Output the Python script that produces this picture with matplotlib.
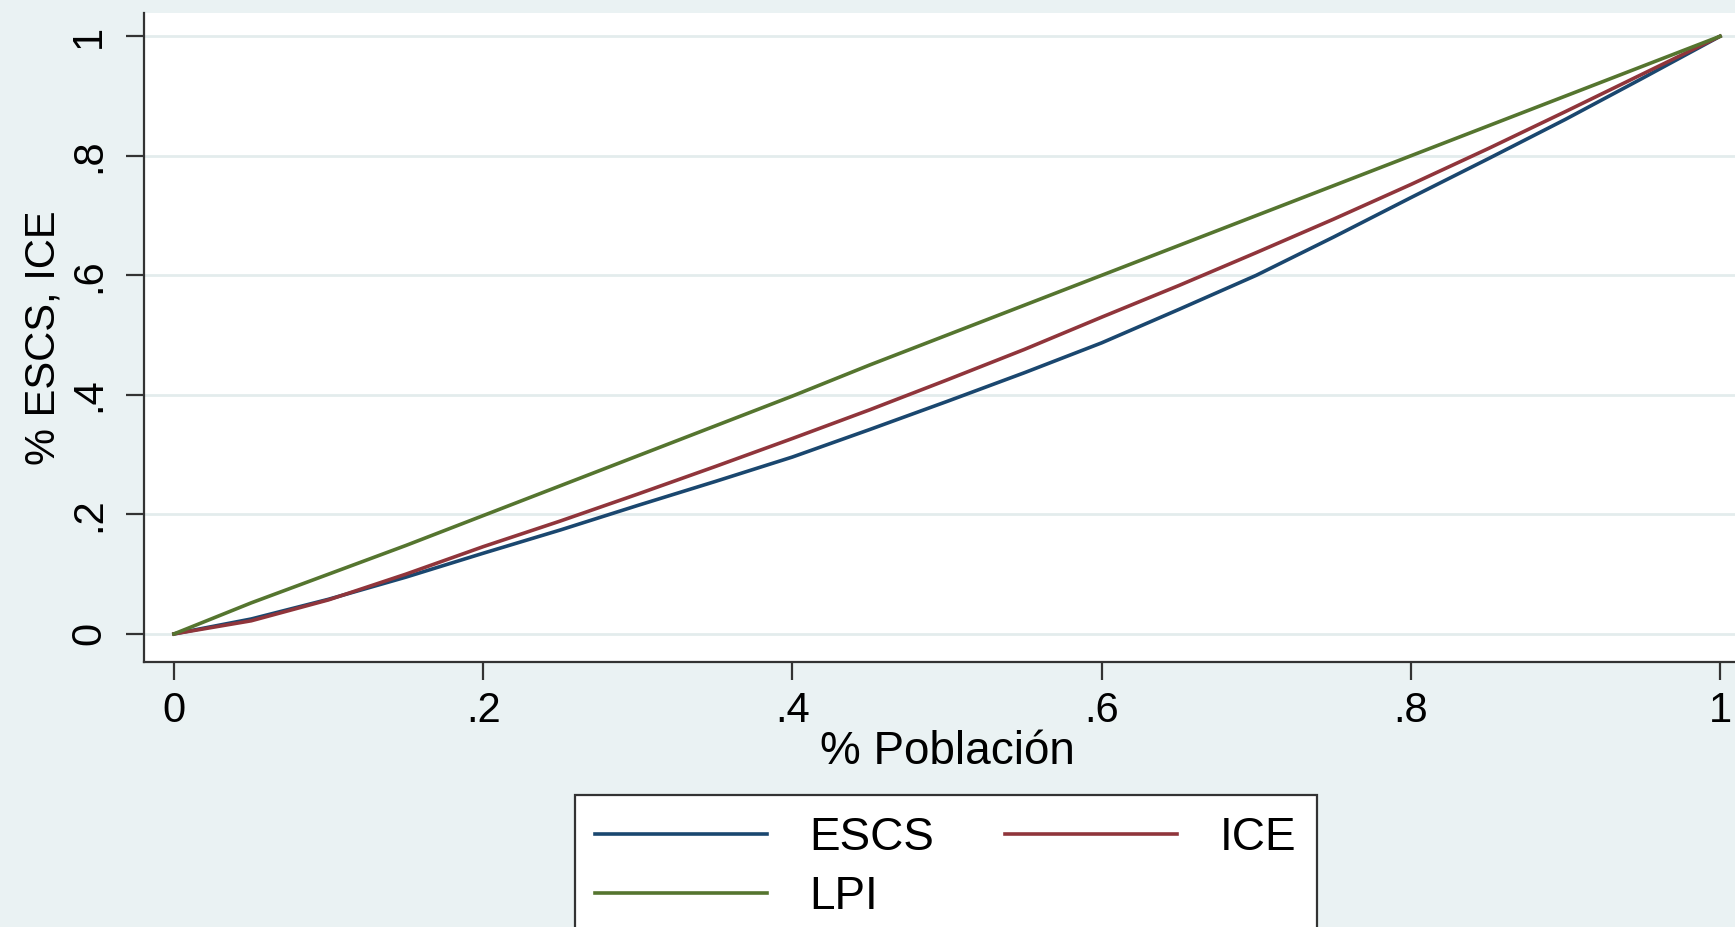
import matplotlib
matplotlib.use("Agg")
import matplotlib.pyplot as plt

# Curvas de concentración
poblacion = [0.0, 0.05, 0.10, 0.15, 0.20, 0.25, 0.30, 0.35, 0.40, 0.45, 0.50,
             0.55, 0.60, 0.65, 0.70, 0.75, 0.80, 0.85, 0.90, 0.95, 1.0]
escs = [0.0, 0.025, 0.058, 0.095, 0.135, 0.174, 0.215, 0.255, 0.296, 0.342, 0.389,
        0.437, 0.487, 0.543, 0.600, 0.664, 0.730, 0.795, 0.861, 0.930, 1.0]
ice = [0.0, 0.022, 0.057, 0.100, 0.146, 0.189, 0.234, 0.280, 0.327, 0.375, 0.425,
       0.476, 0.530, 0.583, 0.638, 0.694, 0.752, 0.812, 0.874, 0.937, 1.0]
lpi = [0.0, 0.052, 0.100, 0.148, 0.198, 0.248, 0.298, 0.348, 0.398, 0.450, 0.500,
       0.550, 0.600, 0.650, 0.700, 0.750, 0.800, 0.850, 0.900, 0.950, 1.0]

x_ticks = [0, 0.2, 0.4, 0.6, 0.8, 1]
x_labels = ["0", ".2", ".4", ".6", ".8", "1"]
y_ticks = [0, 0.2, 0.4, 0.6, 0.8, 1]
y_labels = ["0", ".2", ".4", ".6", ".8", "1"]

bg = "#eaf2f3"
plt.rcParams["font.family"] = ["Liberation Sans", "DejaVu Sans"]

fig = plt.figure(figsize=(17.35, 9.27), dpi=100, facecolor=bg)
ax = fig.add_axes([144 / 1735, 1 - 662 / 927, (1750 - 144) / 1735, (662 - 13) / 927])
ax.set_facecolor("white")

l_escs, = ax.plot(poblacion, escs, color="#1a476f", lw=2.6, label="ESCS")
l_ice, = ax.plot(poblacion, ice, color="#90353b", lw=2.6, label="ICE")
l_lpi, = ax.plot(poblacion, lpi, color="#55752f", lw=2.6, label="LPI")

ax.set_xlim(-0.0194, 1.0194)
ax.set_ylim(-0.047, 1.039)

ax.set_xticks(x_ticks)
ax.set_xticklabels(x_labels)
ax.set_yticks(y_ticks)
ax.set_yticklabels(y_labels, rotation=90, va="center")
ax.tick_params(axis="both", labelsize=30, length=13, width=1.6, color="#333333")
ax.tick_params(axis="y", pad=12)
ax.tick_params(axis="x", pad=8)

ax.grid(axis="y", color="#e3eced", lw=2)
ax.set_axisbelow(True)
for s in ["top", "right"]:
    ax.spines[s].set_visible(False)
for s in ["left", "bottom"]:
    ax.spines[s].set_linewidth(1.6)
    ax.spines[s].set_color("#333333")

ax.set_xlabel("% Población", fontsize=33, labelpad=-1)
ax.set_ylabel("% ESCS, ICE", fontsize=30, labelpad=4)

# orden por filas: ESCS, ICE / LPI
leg = fig.legend([l_escs, l_lpi, l_ice], ["ESCS", "LPI", "ICE"],
                 loc="upper center", bbox_to_anchor=(0.545, 1 - 795 / 927), ncol=2,
                 fontsize=33, handlelength=3.75, handletextpad=0.92, columnspacing=1.55,
                 labelspacing=0.33, borderpad=0.45, borderaxespad=0, fancybox=False,
                 framealpha=1, edgecolor="#333333")
leg.get_frame().set_linewidth(1.6)

fig.savefig("out.png", dpi=100, facecolor=bg)
